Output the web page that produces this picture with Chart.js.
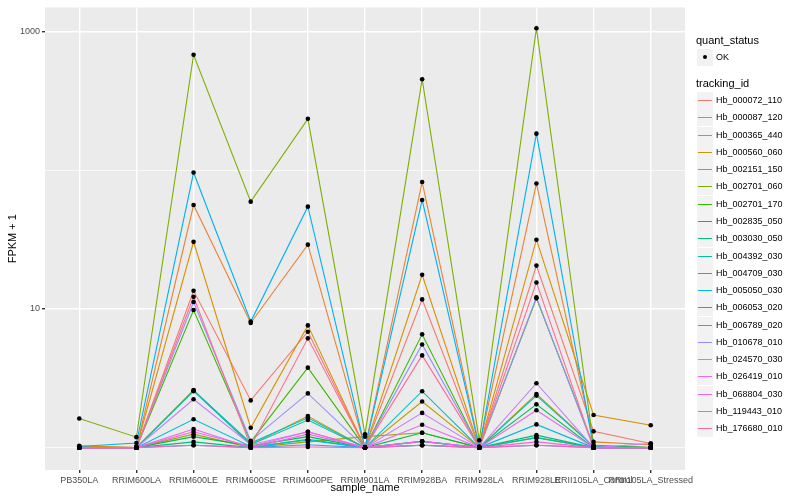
<!DOCTYPE html>
<html>
<head>
<meta charset="utf-8">
<script src="https://cdn.jsdelivr.net/npm/chart.js@4.4.0/dist/chart.umd.min.js"></script>
<style>
  body { margin: 0; background: #fff; font-family: "Liberation Sans", Arial, sans-serif; }
  #wrap { position: relative; width: 800px; height: 500px; }
  #legend div { position: absolute; white-space: nowrap; }
</style>
</head>
<body>
<div id="wrap">
  <canvas id="chart" width="800" height="500"></canvas>
  <div id="legend"></div>
</div>
<script>
const samples = ['PB350LA', 'RRIM600LA', 'RRIM600LE', 'RRIM600SE', 'RRIM600PE', 'RRIM901LA',
  'RRIM928BA', 'RRIM928LA', 'RRIM928LE', 'RRII105LA_Control', 'RRII105LA_Stressed'];

const trackingIds = ['Hb_000072_110', 'Hb_000087_120', 'Hb_000365_440', 'Hb_000560_060', 'Hb_002151_150',
  'Hb_002701_060', 'Hb_002701_170', 'Hb_002835_050', 'Hb_003030_050', 'Hb_004392_030',
  'Hb_004709_030', 'Hb_005050_030', 'Hb_006053_020', 'Hb_006789_020', 'Hb_010678_010',
  'Hb_024570_030', 'Hb_026419_010', 'Hb_068804_030', 'Hb_119443_010', 'Hb_176680_010'];

// ggplot default hue palette, 20 levels
const colors = ['#F8766D', '#EA8331', '#D89000', '#C09B00', '#A3A500', '#7CAE00', '#39B600', '#00BB4E',
  '#00BF7D', '#00C1A3', '#00BFC4', '#00BAE0', '#00B0F6', '#35A2FF', '#9590FF', '#C77CFF',
  '#E76BF3', '#FA62DB', '#FF62BC', '#FF6C91'];

// FPKM + 1, one value per sample
const hb_000072_110 = [1.0, 1.0, 13.5, 2.19, 6.84, 1.0, 11.7, 1.0, 20.5, 1.31, 1.07];
const hb_000087_120 = [1.02, 1.0, 56, 7.9, 29, 1.0, 82, 1.02, 80, 1.1, 1.05];
const hb_000365_440 = [1.03, 1.0, 30.4, 1.39, 7.6, 1.0, 17.6, 1.0, 31.5, 1.72, 1.45];
const hb_000560_060 = [1.0, 1.0, 2.6, 1.05, 1.69, 1.0, 2.15, 1.0, 2.43, 1.02, 1.0];
const hb_002151_150 = [1.0, 1.0, 1.25, 1.0, 1.1, 1.2, 1.28, 1.0, 1.18, 1.0, 1.0];
const hb_002701_060 = [1.62, 1.19, 677, 59.2, 234, 1.25, 451, 1.13, 1051, 1.04, 1.0];
const hb_002701_170 = [1.0, 1.0, 9.8, 1.1, 3.77, 1.0, 6.55, 1.0, 11.9, 1.03, 1.0];
const hb_002835_050 = [1.0, 1.0, 1.2, 1.03, 1.2, 1.0, 1.28, 1.0, 2.05, 1.0, 1.0];
const hb_003030_050 = [1.0, 1.0, 1.1, 1.0, 1.15, 1.0, 1.11, 1.0, 1.23, 1.0, 1.0];
const hb_004392_030 = [1.0, 1.0, 2.55, 1.05, 1.58, 1.0, 1.04, 1.0, 1.18, 1.0, 1.0];
const hb_004709_030 = [1.0, 1.0, 2.58, 1.08, 1.64, 1.0, 2.55, 1.0, 2.37, 1.02, 1.0];
const hb_005050_030 = [1.0, 1.0, 1.6, 1.02, 1.13, 1.0, 1.11, 1.0, 1.47, 1.0, 1.0];
const hb_006053_020 = [1.02, 1.08, 96, 8.1, 54.5, 1.0, 60.8, 1.0, 183, 1.0, 1.0];
const hb_006789_020 = [1.0, 1.0, 1.04, 1.0, 1.05, 1.0, 1.04, 1.0, 1.04, 1.0, 1.0];
const hb_010678_010 = [1.0, 1.0, 11.2, 1.12, 2.46, 1.0, 5.54, 1.0, 12.1, 1.0, 1.0];
const hb_024570_030 = [1.0, 1.0, 2.23, 1.05, 1.3, 1.0, 1.78, 1.0, 2.91, 1.0, 1.07];
const hb_026419_010 = [1.0, 1.0, 1.36, 1.0, 1.25, 1.0, 1.46, 1.0, 1.86, 1.0, 1.0];
const hb_068804_030 = [1.0, 1.0, 1.3, 1.02, 1.3, 1.0, 1.11, 1.0, 1.1, 1.0, 1.0];
const hb_119443_010 = [1.0, 1.0, 1.04, 1.0, 1.01, 1.0, 1.04, 1.0, 1.04, 1.0, 1.0];
const hb_176680_010 = [1.0, 1.0, 12.2, 1.02, 6.13, 1.0, 4.62, 1.0, 15.5, 1.0, 1.0];

const series = [hb_000072_110, hb_000087_120, hb_000365_440, hb_000560_060, hb_002151_150,
  hb_002701_060, hb_002701_170, hb_002835_050, hb_003030_050, hb_004392_030,
  hb_004709_030, hb_005050_030, hb_006053_020, hb_006789_020, hb_010678_010,
  hb_024570_030, hb_026419_010, hb_068804_030, hb_119443_010, hb_176680_010];

const yTicks = [1, 10, 100, 1000];
const yLabelled = [10, 1000];

const FONT = '"Liberation Sans", Arial, sans-serif';

const datasets = series.map((vals, i) => ({
  label: trackingIds[i],
  data: vals.map((v, j) => ({ x: j, y: v })),
  borderColor: colors[i],
  backgroundColor: colors[i],
  borderWidth: 1.1,
  pointRadius: 0,
  tension: 0,
  order: series.length - i   // later groups on top, like ggplot
}));
// points layer drawn above all lines
datasets.push({
  label: 'OK',
  data: series.flatMap(vals => vals.map((v, j) => ({ x: j, y: v }))),
  showLine: false,
  pointRadius: 2.3,
  pointBackgroundColor: '#000',
  pointBorderWidth: 0,
  order: -1
});

const panelBg = {
  id: 'panelBg',
  beforeDraw(chart) {
    const a = chart.chartArea, ctx = chart.ctx;
    ctx.save();
    ctx.fillStyle = '#EBEBEB';
    ctx.fillRect(a.left, a.top, a.right - a.left, a.bottom - a.top);
    ctx.restore();
  }
};

new Chart(document.getElementById('chart'), {
  type: 'line',
  data: { datasets },
  plugins: [panelBg],
  options: {
    responsive: false,
    animation: false,
    layout: { padding: { top: 5, right: 115, left: 0, bottom: 0 } },
    plugins: { legend: { display: false }, tooltip: { enabled: false } },
    scales: {
      x: {
        type: 'linear', min: -0.6, max: 10.6,
        afterBuildTicks: s => { s.ticks = samples.map((_, i) => ({ value: i })); },
        afterFit: s => { s.height = 30; },
        border: { display: false },
        grid: { color: '#FFFFFF', lineWidth: 1.4, tickColor: '#333333', tickLength: 3 },
        ticks: {
          autoSkip: false, maxRotation: 0, minRotation: 0, padding: 2,
          color: '#4D4D4D', font: { size: 9, family: FONT },
          callback: v => samples[v]
        },
        title: { display: true, text: 'sample_name', color: '#000', font: { size: 11, family: FONT }, padding: { top: 0, bottom: 5 } }
      },
      y: {
        type: 'logarithmic', min: 0.69, max: 1486,
        afterBuildTicks: s => { s.ticks = yTicks.map(v => ({ value: v })); },
        afterFit: s => { s.width = 45; },
        border: { display: false },
        grid: {
          color: '#FFFFFF',
          lineWidth: c => (c.tick && yLabelled.includes(c.tick.value)) ? 1.4 : 0.7,
          tickColor: c => (c.tick && yLabelled.includes(c.tick.value)) ? '#333333' : 'rgba(0,0,0,0)',
          tickLength: 3
        },
        ticks: {
          padding: 2, color: '#4D4D4D', font: { size: 9, family: FONT },
          callback: v => yLabelled.includes(v) ? String(v) : ''
        },
        title: { display: true, text: 'FPKM + 1', color: '#000', font: { size: 11, family: FONT }, padding: { top: 6, bottom: 0 } }
      }
    }
  }
});

// ggplot-style legend with two guides
const legend = document.getElementById('legend');
function el(style, html) {
  const d = document.createElement('div');
  Object.assign(d.style, style);
  if (html !== undefined) d.textContent = html;
  legend.appendChild(d);
  return d;
}
const KEY = 17.28;
el({ left: '696px', top: '34px', fontSize: '11px', lineHeight: '13px', color: '#000' }, 'quant_status');
el({ left: '697px', top: '49px', width: '16px', height: '17px', background: '#F2F2F2' });
el({ left: '703px', top: '55px', width: '4px', height: '4px', borderRadius: '2px', background: '#000' });
el({ left: '716px', top: '52px', fontSize: '9px', lineHeight: '11px', color: '#000' }, 'OK');
el({ left: '696px', top: '77px', fontSize: '11px', lineHeight: '13px', color: '#000' }, 'tracking_id');
trackingIds.forEach((id, i) => {
  const top = Math.round(92 + i * KEY);
  el({ left: '697px', top: top + 'px', width: '16px', height: '17px', background: '#F2F2F2' });
  el({ left: '698px', top: (top + 7.5) + 'px', width: '14px', height: '1.5px', background: colors[i] });
  el({ left: '716px', top: (top + 3) + 'px', fontSize: '9px', lineHeight: '11px', color: '#000' }, id);
});
</script>
</body>
</html>
